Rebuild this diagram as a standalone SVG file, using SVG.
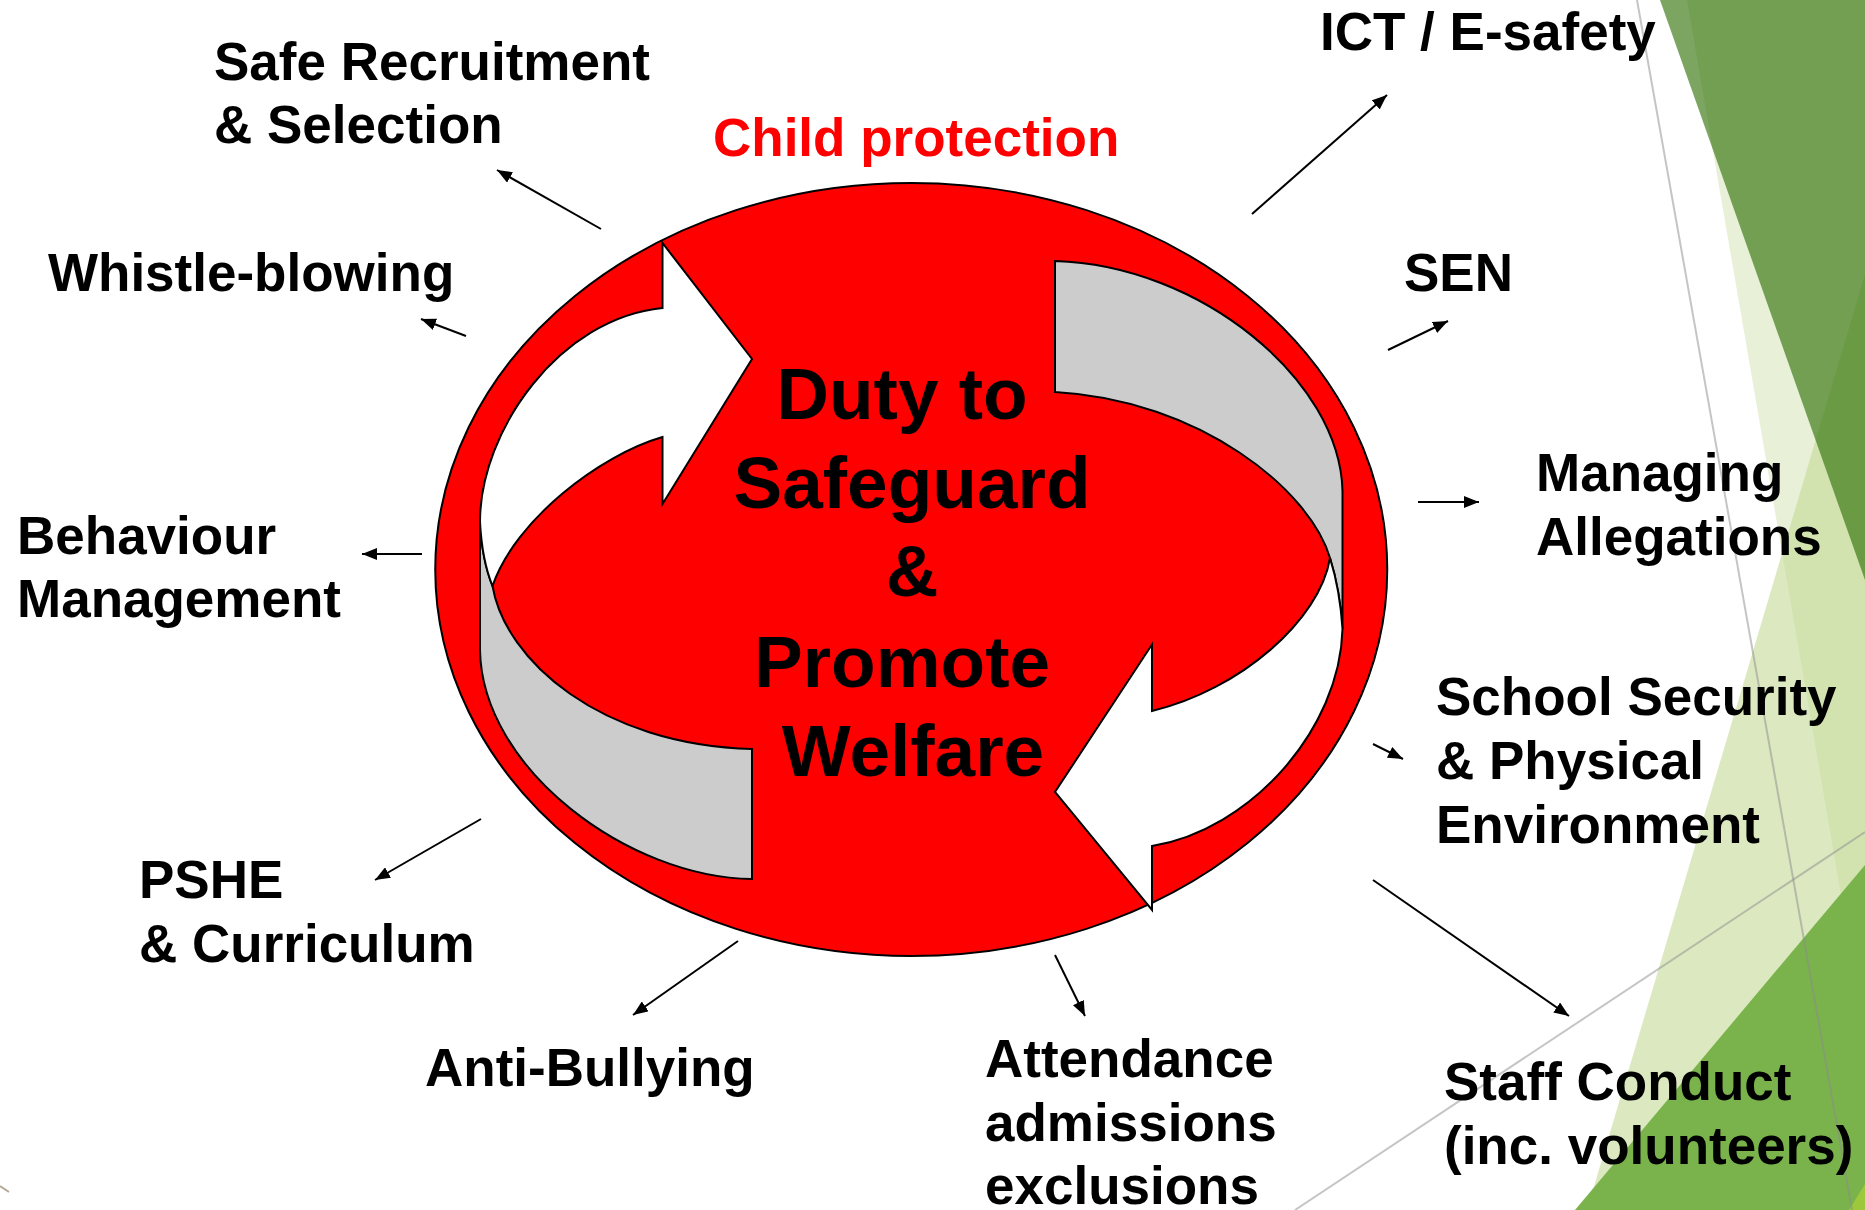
<svg xmlns="http://www.w3.org/2000/svg" width="1865" height="1210" viewBox="0 0 1865 1210">
  <defs>
    <style>
      .lbl { font-family: "Liberation Sans", Arial, sans-serif; font-weight: bold; font-size: 53px; fill: #000; }
      .core { font-family: "Liberation Sans", Arial, sans-serif; font-weight: bold; font-size: 73px; fill: #000; text-anchor: middle; }
      .title { fill: #ff0000; }
      .edge { stroke: #000; stroke-width: 2; fill: none; marker-end: url(#ah); }
      .facet { stroke: #8c8c8c; stroke-opacity: 0.5; stroke-width: 2; fill: none; }
      .band { stroke: #000; stroke-width: 2; stroke-linejoin: miter; }
    </style>
    <marker id="ah" markerUnits="userSpaceOnUse" markerWidth="15" markerHeight="12" viewBox="0 0 15 12" refX="15" refY="6" orient="auto">
      <path d="M0,0 L15,6 L0,12 z" fill="#000"/>
    </marker>
  </defs>

  <rect width="1865" height="1210" fill="#ffffff"/>

  <!-- green facets on the right edge -->
  <g id="backdrop">
    <polygon points="1687,0 1865,0 1865,1035" fill="#e8f0d8"/>
    <polygon points="1865,274 1865,1210 1587,1210" fill="rgb(197,218,150)" fill-opacity="0.6"/>
    <polygon points="1660,0 1865,0 1865,580" fill="rgb(42,109,0)" fill-opacity="0.615"/>
    <polygon points="1575,1210 1865,865 1865,1210" fill="#7ab34b"/>
    <polygon points="1849,1210 1865,1184 1865,1210" fill="#9cc83c"/>
    <line class="facet" x1="1637" y1="0" x2="1852" y2="1210"/>
    <line class="facet" x1="1295" y1="1210" x2="1865" y2="832"/>
    <line x1="0" y1="1186" x2="9" y2="1192" stroke="#b5a996" stroke-width="2"/>
  </g>

  <!-- central cycle: red disc with two circling arrows -->
  <g id="cycle">
    <ellipse cx="911.25" cy="569.5" rx="476" ry="386.5" fill="#ff0000" stroke="#000" stroke-width="2"/>

    <!-- left arrow: grey side wall -->
    <path class="band" fill="#cccccc" d="M752,749 L752,879 C630,878 482,770 480,650 L480,522 Q482,560 492.5,586 C505,660 600,745 752,749 Z"/>
    <!-- left arrow: white face with head pointing right -->
    <path class="band" fill="#ffffff" d="M480,522 C480,430 560,318 662.5,308 L662.5,243 L752,359 L662.5,504 L662.5,437 C600,455 515,520 492.5,586 Q482,560 480,522 Z"/>

    <!-- right arrow: grey side wall -->
    <path class="band" fill="#cccccc" d="M1055,261 C1200,265 1340,380 1342.5,491 L1342.5,629 Q1340,590 1330,558 C1310,490 1200,400 1055,392 Z"/>
    <!-- right arrow: white face with head pointing left -->
    <path class="band" fill="#ffffff" d="M1342.5,629 C1340,730 1250,830 1152,846 L1152,910 L1055,792 L1152,644.5 L1152,711 C1240,690 1320,620 1330,558 Q1340,590 1342.5,629 Z"/>

    <text class="core" x="902" y="418.5">Duty to</text>
    <text class="core" x="912" y="508">Safeguard</text>
    <text class="core" x="912" y="596">&amp;</text>
    <text class="core" x="902" y="687">Promote</text>
    <text class="core" x="913" y="776">Welfare</text>
  </g>

  <g id="title">
    <text class="lbl title" x="713" y="156">Child protection</text>
  </g>

  <!-- spokes from the cycle to each area -->
  <g id="connectors">
    <line class="edge" x1="601" y1="229" x2="497" y2="170"/>
    <line class="edge" x1="466" y1="336" x2="421" y2="319"/>
    <line class="edge" x1="422" y1="554" x2="362" y2="554"/>
    <line class="edge" x1="481" y1="819" x2="375" y2="880"/>
    <line class="edge" x1="738" y1="941" x2="633" y2="1015"/>
    <line class="edge" x1="1055" y1="955" x2="1085" y2="1016"/>
    <line class="edge" x1="1373" y1="880" x2="1569" y2="1016"/>
    <line class="edge" x1="1373" y1="744" x2="1403" y2="759"/>
    <line class="edge" x1="1418" y1="502" x2="1479" y2="502"/>
    <line class="edge" x1="1388" y1="350" x2="1448" y2="321"/>
    <line class="edge" x1="1252" y1="214" x2="1387" y2="95"/>
  </g>

  <g id="safe-recruitment">
    <text class="lbl" x="214" y="80">Safe Recruitment</text>
    <text class="lbl" x="214" y="143">&amp; Selection</text>
  </g>
  <g id="whistle-blowing">
    <text class="lbl" x="48" y="291">Whistle-blowing</text>
  </g>
  <g id="behaviour">
    <text class="lbl" x="17" y="554">Behaviour</text>
    <text class="lbl" x="17" y="617">Management</text>
  </g>
  <g id="pshe">
    <text class="lbl" x="139" y="898">PSHE</text>
    <text class="lbl" x="139" y="962">&amp; Curriculum</text>
  </g>
  <g id="anti-bullying">
    <text class="lbl" x="425" y="1086">Anti-Bullying</text>
  </g>
  <g id="attendance">
    <text class="lbl" x="985" y="1077">Attendance</text>
    <text class="lbl" x="985" y="1141">admissions</text>
    <text class="lbl" x="985" y="1204">exclusions</text>
  </g>
  <g id="staff-conduct">
    <text class="lbl" x="1444" y="1100">Staff Conduct</text>
    <text class="lbl" x="1444" y="1164">(inc. volunteers)</text>
  </g>
  <g id="school-security">
    <text class="lbl" x="1436" y="715">School Security</text>
    <text class="lbl" x="1436" y="779">&amp; Physical</text>
    <text class="lbl" x="1436" y="843">Environment</text>
  </g>
  <g id="managing-allegations">
    <text class="lbl" x="1536" y="491">Managing</text>
    <text class="lbl" x="1536" y="555">Allegations</text>
  </g>
  <g id="sen">
    <text class="lbl" x="1404" y="291">SEN</text>
  </g>
  <g id="ict">
    <text class="lbl" x="1320" y="50">ICT / E-safety</text>
  </g>
</svg>
